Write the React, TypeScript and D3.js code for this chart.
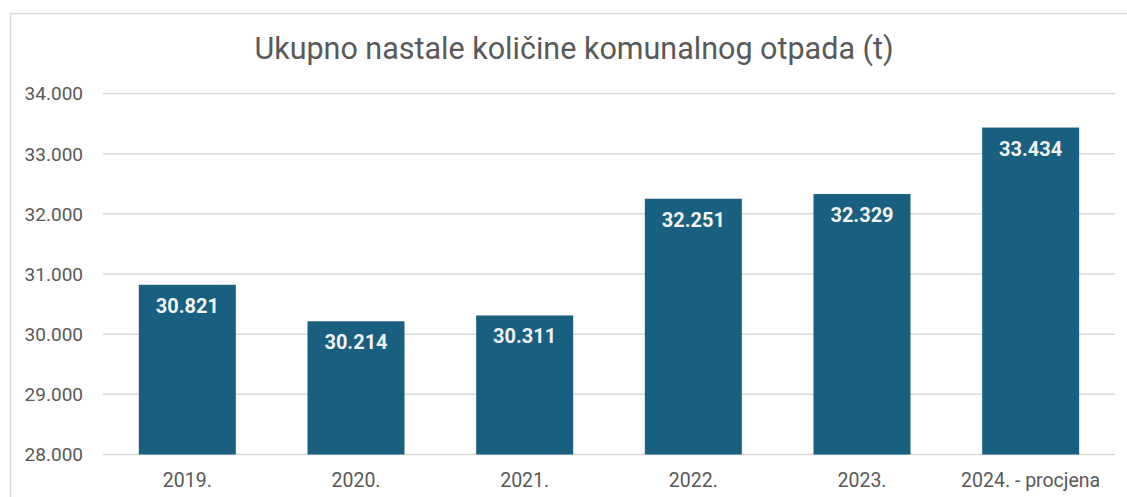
import React from "react";
import * as d3 from "d3";

const categories = ["2019.", "2020.", "2021.", "2022.", "2023.", "2024. - procjena"];
const values = [30821, 30214, 30311, 32251, 32329, 33434];
const yTicks = [28000, 29000, 30000, 31000, 32000, 33000, 34000];
const title = "Ukupno nastale količine komunalnog otpada (t)";

const W = 1127;
const H = 497;

const fmt = (v: number) => d3.format(",")(v).replace(/,/g, ".");

export default function App() {
  const x = d3
    .scaleBand<string>()
    .domain(categories)
    .range([103, 1115])
    .paddingInner(0.425)
    .paddingOuter(0.2125);
  const y = d3.scaleLinear().domain([28000, 34000]).range([454.5, 93.5]);
  const font = "Roboto, 'Noto Sans', sans-serif";
  const gray = "#595959";
  const barColor = "#185f80";

  return (
    <svg
      width={W}
      height={H}
      style={{ position: "absolute", left: 0, top: 0, display: "block", background: "#fff" }}
      fontFamily={font}
    >
      <rect x={10.5} y={13.5} width={W + 20} height={H + 20} fill="#fff" stroke="#d9d9d9" strokeWidth={1.5} />
      <text x={574} y={59} textAnchor="middle" fontSize={30.5} fill={gray}>
        {title}
      </text>
      {yTicks.map((t) => (
        <g key={t}>
          <line x1={103} x2={1115} y1={y(t)} y2={y(t)} stroke="#d9d9d9" strokeWidth={1.5} />
          <text x={83} y={y(t)} dy="0.36em" textAnchor="end" fontSize={19} fill={gray}>
            {fmt(t)}
          </text>
        </g>
      ))}
      {categories.map((c, i) => {
        const bx = x(c)!;
        const bw = x.bandwidth();
        const top = y(values[i]);
        return (
          <g key={c}>
            <rect x={bx} y={top} width={bw} height={y(28000) - top} fill={barColor} />
            <text
              x={bx + bw / 2}
              y={top + 28}
              textAnchor="middle"
              fontSize={20}
              fontWeight="bold"
              fill="#f2f2f2"
            >
              {fmt(values[i])}
            </text>
            <text x={bx + bw / 2} y={486.5} textAnchor="middle" fontSize={19.5} fill={gray}>
              {c}
            </text>
          </g>
        );
      })}
    </svg>
  );
}
